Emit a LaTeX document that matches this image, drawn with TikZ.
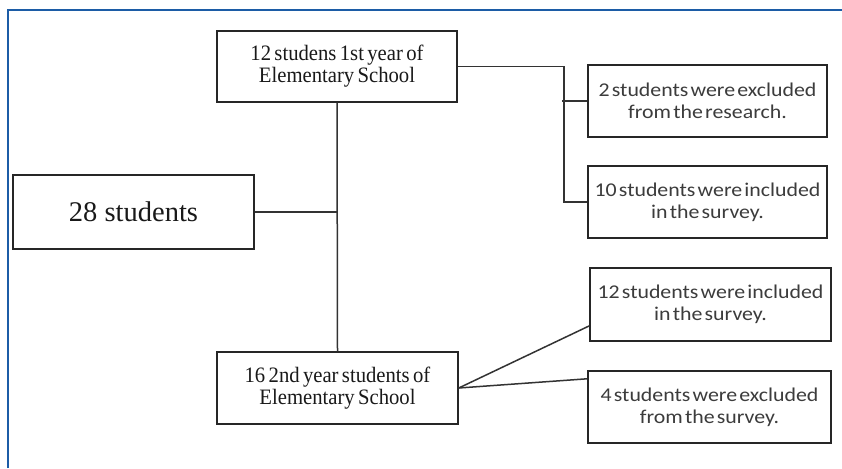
\documentclass[tikz,border=0pt]{standalone}
\usepackage{fontspec}
\usepackage{tikz}
\usetikzlibrary{calc}
\newfontfamily\serifbox[FakeStretch=0.94,WordSpace=0.65]{Liberation Serif}
\newfontfamily\serifbig{Liberation Serif}
\newfontfamily\sansbox[FakeStretch=1.12,WordSpace=0.45]{Carlito}
\definecolor{framebl}{RGB}{28,92,166}
\definecolor{sanstext}{RGB}{60,60,60}

\begin{document}
\begin{tikzpicture}[x=1pt,y=-1pt,
    groupbox/.style={draw=black!85,line width=1.5pt,rectangle,align=center,inner sep=0pt,
        minimum width=241pt,minimum height=72pt,font=\serifbox\fontsize{22}{22}\selectfont,text=black!90},
    resultbox/.style={draw=black!85,line width=1.5pt,rectangle,align=center,inner sep=0pt,
        minimum width=240pt,minimum height=72pt,font=\sansbox\fontsize{19.5}{22}\selectfont,text=sanstext},
    link/.style={draw=black!80,line width=1.5pt}]
    \useasboundingbox (0,0) rectangle (842,468); % Fixes the page size
    \fill[white] (0,0) rectangle (842,468);
    \draw[framebl,line width=2.2pt] (8.3,468) -- (8.3,10) -- (842,10); % Open frame, cut off at right and bottom

    % Left side: the whole group and its two classes
    \node[groupbox,minimum height=74pt,font=\serifbig\fontsize{28.5}{30}\selectfont] (total) at (133.5,212) {28 students};
    \node[groupbox,minimum width=240pt,minimum height=71pt] (first) at (337,66.5) {12 studens 1st year of\\Elementary School};
    \node[groupbox] (second) at (337.5,388) {16 2nd year students of\\Elementary School};

    % Right side: what happened to each class
    \node[resultbox,minimum width=239pt] (exclA) at (707.5,101) {2 students were excluded\\from the research.};
    \node[resultbox,minimum width=239pt] (inclA) at (707.5,202) {10 students were included\\in the survey.};
    \node[resultbox,minimum width=241pt,minimum height=73pt] (inclB) at (710.5,304.5) {12 students were included\\in the survey.};
    \node[resultbox,minimum width=243pt] (exclB) at (709.5,407) {4 students were excluded\\from the survey.};

    \draw[link] (first.south) -- (second.north); % Spine between the two classes
    \draw[link] (total.east) -- (total.east -| first.south);
    \draw[link] (first.east) -- ++(106,0) |- (inclA.west); % Fork for the 1st year
    \draw[link] (exclA.west) -- ++(-25,0);
    \draw[link] (second.east) -- (inclB.190); % Two straight lines for the 2nd year
    \draw[link] (second.east) -- (exclB.167);
\end{tikzpicture}
\end{document}
